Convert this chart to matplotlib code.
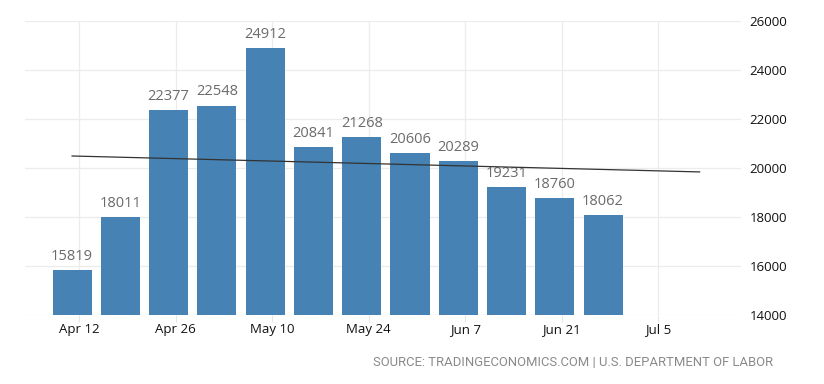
import matplotlib
matplotlib.use("Agg")
import matplotlib.pyplot as plt
import matplotlib.dates as mdates
import numpy as np
import datetime as dt

# Data
week_dates = ["2020-04-11", "2020-04-18", "2020-04-25", "2020-05-02", "2020-05-09", "2020-05-16",
              "2020-05-23", "2020-05-30", "2020-06-06", "2020-06-13", "2020-06-20", "2020-06-27"]
values = [15819, 18011, 22377, 22548, 24912, 20841, 21268, 20606, 20289, 19231, 18760, 18062]
tick_dates = ["2020-04-12", "2020-04-26", "2020-05-10", "2020-05-24", "2020-06-07", "2020-06-21", "2020-07-05"]
tick_labels = ["Apr 12", "Apr 26", "May 10", "May 24", "Jun 7", "Jun 21", "Jul 5"]
trend_dates = ["2020-04-11", "2020-07-11"]
trend_values = [20490, 19840]
y_ticks = [14000, 16000, 18000, 20000, 22000, 24000, 26000]
source = "SOURCE: TRADINGECONOMICS.COM | U.S. DEPARTMENT OF LABOR"

plt.rcParams['font.family'] = ['Open Sans', 'DejaVu Sans']

to_num = lambda s: mdates.date2num(dt.datetime.strptime(s, "%Y-%m-%d"))
x = np.array([to_num(d) for d in week_dates])
xt = np.array([to_num(d) for d in tick_dates])
xtr = np.array([to_num(d) for d in trend_dates])

fig = plt.figure(figsize=(8.24, 3.84), dpi=100)
ax = fig.add_axes([25/824, 1-315/384, (741-25)/824, (315-21)/384])

ax.bar(x, values, width=5.66, color="#4682b4", zorder=2)
for xi, v in zip(x, values):
    ax.text(xi, v + 250, str(v), ha="center", va="bottom", fontsize=10.5, color="#6b6b6b", zorder=3)

ax.plot(xtr, trend_values, color="#333333", lw=0.9, zorder=4)

ax.set_ylim(14000, 26000)
ax.set_xlim(xt[0] - 7.83, xt[0] + 96.0)
ax.set_xticks(xt)
ax.set_xticklabels(tick_labels, fontsize=9.5, color="#111111")
ax.set_yticks(y_ticks)
ax.set_yticklabels([str(t) for t in y_ticks], fontsize=9.5, color="#111111")
ax.yaxis.tick_right()
ax.tick_params(axis="y", length=0, pad=6)
ax.tick_params(axis="x", length=5, color="#e6e6e6", pad=1)
for s in ax.spines.values():
    s.set_visible(False)
ax.grid(True, color="#ececec", lw=0.9, zorder=0)
ax.set_axisbelow(True)

fig.text(773/824, 1-362/384, source, ha="right", va="center", fontsize=9.4, color="#8a8a8a",
         family=['Roboto', 'DejaVu Sans'])

fig.savefig("out.png", dpi=100)
